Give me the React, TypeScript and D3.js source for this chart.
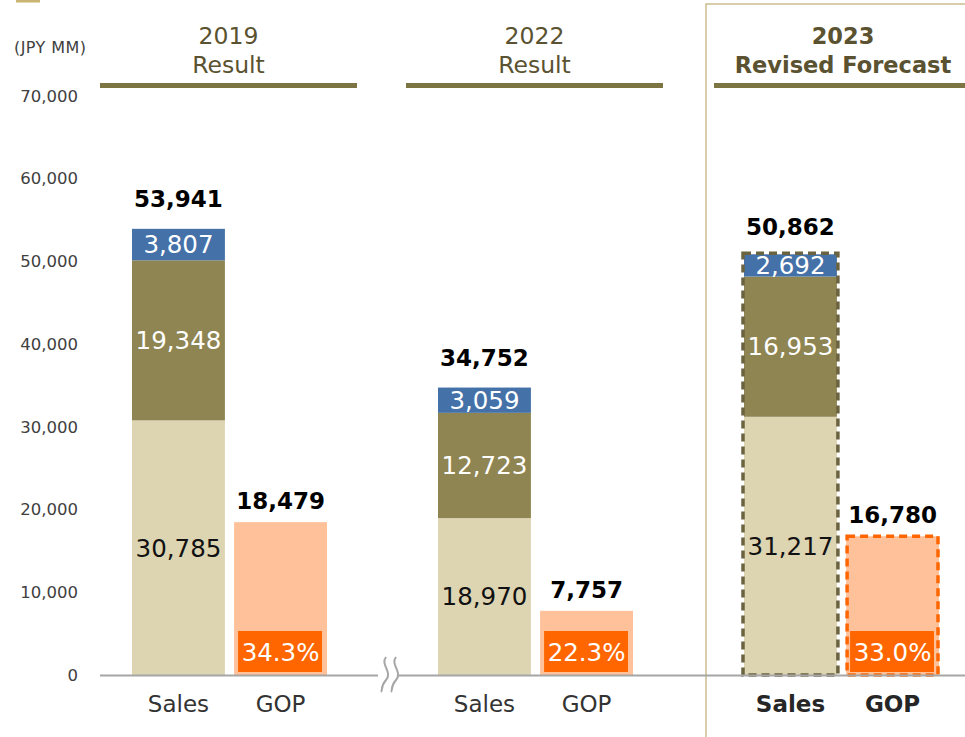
import React from 'react';
import * as d3 from 'd3';

const periods = ['2019', '2022', '2023'];
const periodTitles = [['2019', 'Result'], ['2022', 'Result'], ['2023', 'Revised Forecast']];
const measures = ['Sales', 'GOP'];
const salesBase = [30785, 18970, 31217];
const salesMid = [19348, 12723, 16953];
const salesTop = [3807, 3059, 2692];
const salesTotal = [53941, 34752, 50862];
const gop = [18479, 7757, 16780];
const gopMargin = ['34.3%', '22.3%', '33.0%'];
const yTicks = [0, 10000, 20000, 30000, 40000, 50000, 60000, 70000];

const W = 965;
const H = 737;
const FONT = '"DejaVu Sans", Verdana, sans-serif';
const C = {
  base: '#ddd4b2',
  mid: '#8f8552',
  top: '#4471a8',
  gop: '#ffc19a',
  orange: '#ff6600',
  head: '#5a5230',
  axis: '#a6a6a6',
  frame: '#cbbd8f',
};

export default function App() {
  const y = d3.scaleLinear().domain([0, 70000]).range([675, 96]);
  const xg = d3.scalePoint<string>().domain(periods).range([229.5, 841.5]);
  const xi = d3.scaleBand<string>().domain(measures).range([-97.5, 97.5]).paddingInner(0.09);
  const bw = xi.bandwidth();
  const fmt = d3.format(',');

  return (
    <div style={{ position: 'absolute', left: 0, top: 0 }}>
      <svg width={W} height={H} style={{ display: 'block', fontFamily: FONT }}>
        <rect x={0} y={0} width={W} height={H} fill="#fff" />
        <rect x={16} y={0} width={24} height={2.5} fill="#c9b471" />

        {/* forecast frame */}
        <rect x={706} y={4} width={W} height={H} fill="none" stroke={C.frame} strokeWidth={1.5} />

        <text x={14} y={53} fontSize={16} textLength={72} fill="#404040">(JPY MM)</text>

        {yTicks.map((t) => (
          <text key={t} x={78} y={y(t)} dy="0.35em" textAnchor="end" fontSize={16.5} fill="#404040">
            {fmt(t)}
          </text>
        ))}

        {/* headers */}
        {periods.map((p, i) => {
          const cx = xg(p)! - 1;
          const bold = i === 2;
          return (
            <g key={p}>
              <text x={bold ? 843 : cx} y={44} textAnchor="middle" fontSize={bold ? 22.5 : 23.5} fontWeight={bold ? 'bold' : 'normal'} fill={C.head}>
                {periodTitles[i][0]}
              </text>
              <text x={bold ? 843 : cx} y={73} textAnchor="middle" fontSize={bold ? 22.5 : 23.5} fontWeight={bold ? 'bold' : 'normal'} fill={C.head}>
                {periodTitles[i][1]}
              </text>
              <rect x={i === 2 ? 714 : cx - 128.5} y={83} width={257} height={5} fill="#7d7444" />
            </g>
          );
        })}

        {/* bars */}
        {periods.map((p, i) => {
          const xs = xg(p)! + xi('Sales')!;
          const xgp = xg(p)! + xi('GOP')!;
          const forecast = i === 2;
          const segs = [
            { v0: 0, v1: salesBase[i], fill: C.base, txt: '#111' },
            { v0: salesBase[i], v1: salesBase[i] + salesMid[i], fill: C.mid, txt: '#fff' },
            { v0: salesBase[i] + salesMid[i], v1: salesTotal[i], fill: C.top, txt: '#fff' },
          ];
          const vals = [salesBase[i], salesMid[i], salesTop[i]];
          return (
            <g key={p}>
              {segs.map((s, k) => (
                <rect key={k} x={xs} y={y(s.v1)} width={bw} height={y(s.v0) - y(s.v1)} fill={s.fill} />
              ))}
              {segs.map((s, k) => (
                <text key={'t' + k} x={xs + bw / 2} y={(y(s.v0) + y(s.v1)) / 2} dy="0.36em" textAnchor="middle" fontSize={24.5} fill={s.txt}>
                  {fmt(vals[k])}
                </text>
              ))}
              {forecast && (
                <rect x={xs - 1} y={y(salesTotal[i]) - 1} width={bw + 2} height={y(0) - y(salesTotal[i]) + 1} fill="none" stroke="#6b6340" strokeWidth={3.5} strokeDasharray="8 5" />
              )}
              <text x={xs + bw / 2} y={y(salesTotal[i]) - (forecast ? 19 : 22)} textAnchor="middle" fontSize={23} fontWeight="bold" fill="#000">
                {fmt(salesTotal[i])}
              </text>

              <rect x={xgp} y={y(gop[i])} width={bw} height={y(0) - y(gop[i])} fill={C.gop} />
              {forecast && (
                <rect x={xgp + 1} y={y(gop[i])} width={bw - 2} height={y(0) - y(gop[i])} fill="none" stroke={C.orange} strokeWidth={3.5} strokeDasharray="8 5" />
              )}
              <rect x={xgp + 4} y={631} width={bw - 9} height={41} fill={C.orange} />
              <text x={xgp + bw / 2} y={652} dy="0.36em" textAnchor="middle" fontSize={24.5} fill="#fff">
                {gopMargin[i]}
              </text>
              <text x={xgp + bw / 2} y={y(gop[i]) - 13} textAnchor="middle" fontSize={23} fontWeight="bold" fill="#000">
                {fmt(gop[i])}
              </text>

              {measures.map((m) => (
                <text key={m} x={xg(p)! + xi(m)! + bw / 2} y={712} textAnchor="middle" fontSize={23} fontWeight={forecast ? 'bold' : 'normal'} fill={forecast ? '#262626' : '#333'}>
                  {m}
                </text>
              ))}
            </g>
          );
        })}

        {/* axis line */}
        <line x1={100} x2={W} y1={y(0) + 0.5} y2={y(0) + 0.5} stroke={C.axis} strokeWidth={2} />

        {/* axis break */}
        <rect x={378} y={660} width={20} height={30} fill="#fff" />
        <path d="M386,657 C380,665 393,672 386,680 C380,687 383,690 381,692" fill="none" stroke={C.axis} strokeWidth={2} />
        <path d="M396,657 C390,665 403,672 396,680 C390,687 393,690 391,692" fill="none" stroke={C.axis} strokeWidth={2} />
      </svg>
    </div>
  );
}
